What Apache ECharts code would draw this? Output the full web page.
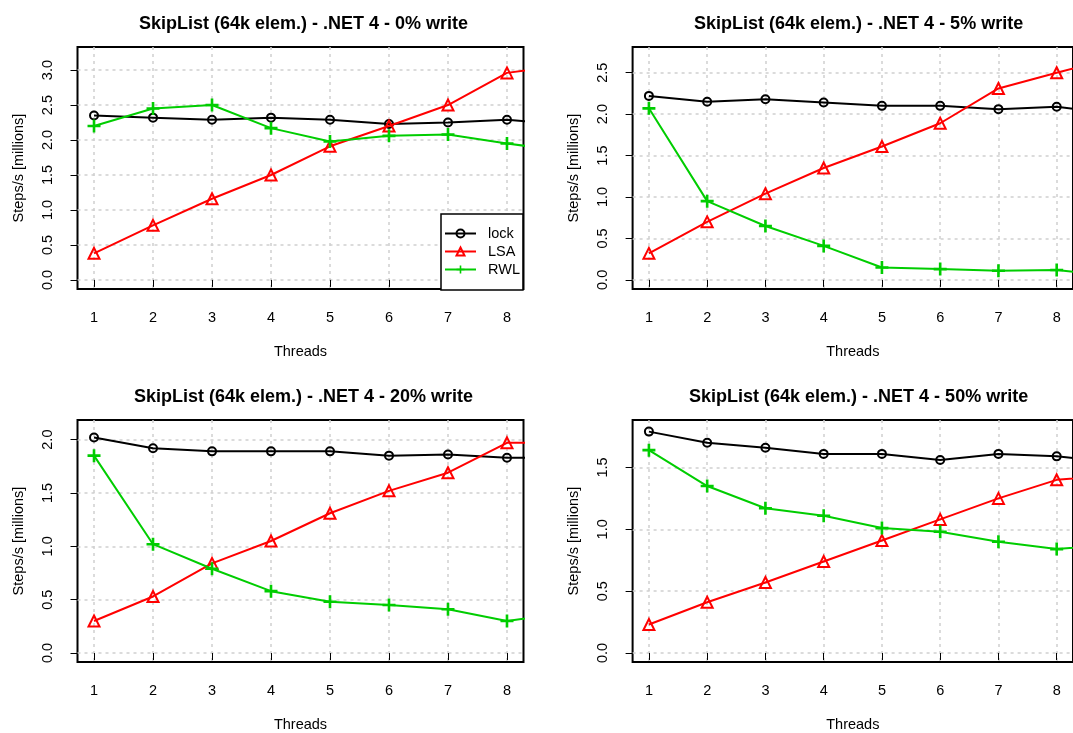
<!DOCTYPE html>
<html>
<head>
<meta charset="utf-8">
<script src="https://cdn.jsdelivr.net/npm/echarts@6/dist/echarts.min.js"></script>
<style>html,body{margin:0;padding:0;background:#fff;}#c{width:1073px;height:733px;}</style>
</head>
<body>
<div id="c"></div>
<script>
// Data (x = threads; the 9th point lies outside the visible x range and is clipped)
const threads = [1, 2, 3, 4, 5, 6, 7, 8, 9];
const xTicks = [1, 2, 3, 4, 5, 6, 7, 8];
const titles = [
  'SkipList (64k elem.) - .NET 4 - 0% write',
  'SkipList (64k elem.) - .NET 4 - 5% write',
  'SkipList (64k elem.) - .NET 4 - 20% write',
  'SkipList (64k elem.) - .NET 4 - 50% write'
];
const seriesNames = ['lock', 'LSA', 'RWL'];

const lock0 = [2.35, 2.32, 2.29, 2.32, 2.29, 2.23, 2.25, 2.29, 2.22];
const lsa0  = [0.38, 0.78, 1.16, 1.50, 1.91, 2.20, 2.50, 2.96, 3.07];
const rwl0  = [2.20, 2.45, 2.50, 2.17, 1.98, 2.06, 2.08, 1.95, 1.84];

const lock5 = [2.22, 2.15, 2.18, 2.14, 2.10, 2.10, 2.06, 2.09, 2.00];
const lsa5  = [0.32, 0.70, 1.04, 1.35, 1.61, 1.89, 2.31, 2.50, 2.68];
const rwl5  = [2.07, 0.95, 0.65, 0.41, 0.15, 0.13, 0.11, 0.12, 0.04];

const lock20 = [2.02, 1.92, 1.89, 1.89, 1.89, 1.85, 1.86, 1.83, 1.83];
const lsa20  = [0.30, 0.53, 0.84, 1.05, 1.31, 1.52, 1.69, 1.97, 1.97];
const rwl20  = [1.85, 1.02, 0.79, 0.58, 0.48, 0.45, 0.41, 0.30, 0.38];

const lock50 = [1.79, 1.70, 1.66, 1.61, 1.61, 1.56, 1.61, 1.59, 1.54];
const lsa50  = [0.23, 0.41, 0.57, 0.74, 0.91, 1.08, 1.25, 1.40, 1.44];
const rwl50  = [1.64, 1.35, 1.17, 1.11, 1.01, 0.98, 0.90, 0.84, 0.88];

const yTicks0  = [0, 0.5, 1.0, 1.5, 2.0, 2.5, 3.0];
const yTicks5  = [0, 0.5, 1.0, 1.5, 2.0, 2.5];
const yTicks20 = [0, 0.5, 1.0, 1.5, 2.0];
const yTicks50 = [0, 0.5, 1.0, 1.5];

const panelData = [
  [lock0, lsa0, rwl0],
  [lock5, lsa5, rwl5],
  [lock20, lsa20, rwl20],
  [lock50, lsa50, rwl50]
];
const yTicks = [yTicks0, yTicks5, yTicks20, yTicks50];
const yRanges = [[-0.13, 3.33], [-0.11, 2.81], [-0.084, 2.184], [-0.073, 1.884]];

// Layout
const FONT = '"Liberation Sans", Arial, Helvetica, sans-serif';
const grids = [
  {left: 77.5, top: 47, width: 446, height: 242},
  {left: 632.6, top: 47, width: 446, height: 242},
  {left: 77.5, top: 420, width: 446, height: 242},
  {left: 632.6, top: 420, width: 446, height: 242}
];
const colors = ['#000000', '#FF0000', '#00CD00'];
const plusPath = 'path://M4,0 H6 V4 H10 V6 H6 V10 H4 V6 H0 V4 H4 Z';
const symbols = ['circle', 'triangle', plusPath];
const symbolSizes = [8, 11, 13];

const option = {
  backgroundColor: '#ffffff',
  animation: false,
  textStyle: {fontFamily: FONT},
  title: grids.map((g, i) => ({
    text: titles[i],
    left: g.left + g.width / 2 - 2,
    top: g.top - 37,
    textAlign: 'center',
    textStyle: {fontFamily: FONT, fontSize: 18, fontWeight: 'bold', color: '#000'}
  })),
  grid: grids.map(g => Object.assign({
    show: true, borderColor: '#000', borderWidth: 2, backgroundColor: 'transparent',
    containLabel: false
  }, g)),
  legend: {
    data: seriesNames,
    orient: 'vertical',
    left: 441, top: 214,
    padding: [12, 3, 13, 3],
    itemWidth: 31, itemHeight: 10, itemGap: 3,
    backgroundColor: '#fff',
    borderColor: '#000', borderWidth: 1.5,
    textStyle: {fontFamily: FONT, fontSize: 14.5, color: '#000', padding: [0, 0, 0, 7]},
    selectedMode: false
  },
  xAxis: grids.map((g, i) => ({
    gridIndex: i, type: 'value', min: 0.72, max: 8.28,
    name: 'Threads', nameLocation: 'middle', nameGap: 55,
    nameTextStyle: {fontFamily: FONT, fontSize: 14.5, color: '#000'},
    axisLine: {show: false},
    axisTick: {show: true, length: 7, customValues: xTicks, lineStyle: {color: '#000', width: 1}},
    axisLabel: {customValues: xTicks, margin: 21, fontFamily: FONT, fontSize: 14.5, color: '#000'},
    splitLine: {show: true, lineStyle: {color: '#cfcfcf', width: 1.5, type: [3, 4]}}
  })),
  yAxis: grids.map((g, i) => ({
    gridIndex: i, type: 'value', min: yRanges[i][0], max: yRanges[i][1],
    name: 'Steps/s [millions]', nameLocation: 'middle', nameGap: 51, nameRotate: 90,
    nameTextStyle: {fontFamily: FONT, fontSize: 14.5, color: '#000'},
    axisLine: {show: false},
    axisTick: {show: true, length: 7, customValues: yTicks[i], lineStyle: {color: '#000', width: 1}},
    axisLabel: {customValues: yTicks[i], rotate: 90, margin: 22, fontFamily: FONT, fontSize: 14.5, color: '#000',
      formatter: v => Number(v).toFixed(1)},
    splitLine: {show: true, lineStyle: {color: '#cfcfcf', width: 1.5, type: [3, 4]}}
  })),
  series: []
};

panelData.forEach((sets, p) => {
  sets.forEach((vals, s) => {
    option.series.push({
      type: 'line',
      name: seriesNames[s],
      xAxisIndex: p, yAxisIndex: p,
      data: threads.map((t, k) => [t, vals[k]]),
      clip: true,
      symbol: symbols[s],
      symbolSize: symbolSizes[s],
      showAllSymbol: true,
      lineStyle: {color: colors[s], width: 2},
      itemStyle: s === 2
        ? {color: colors[s], borderWidth: 0}
        : {color: 'rgba(255,255,255,0)', borderColor: colors[s], borderWidth: 2},
      emphasis: {disabled: true},
      z: 3 + s
    });
  });
});

const chart = echarts.init(document.getElementById('c'), null, {renderer: 'canvas'});
chart.setOption(option);
</script>
</body>
</html>
